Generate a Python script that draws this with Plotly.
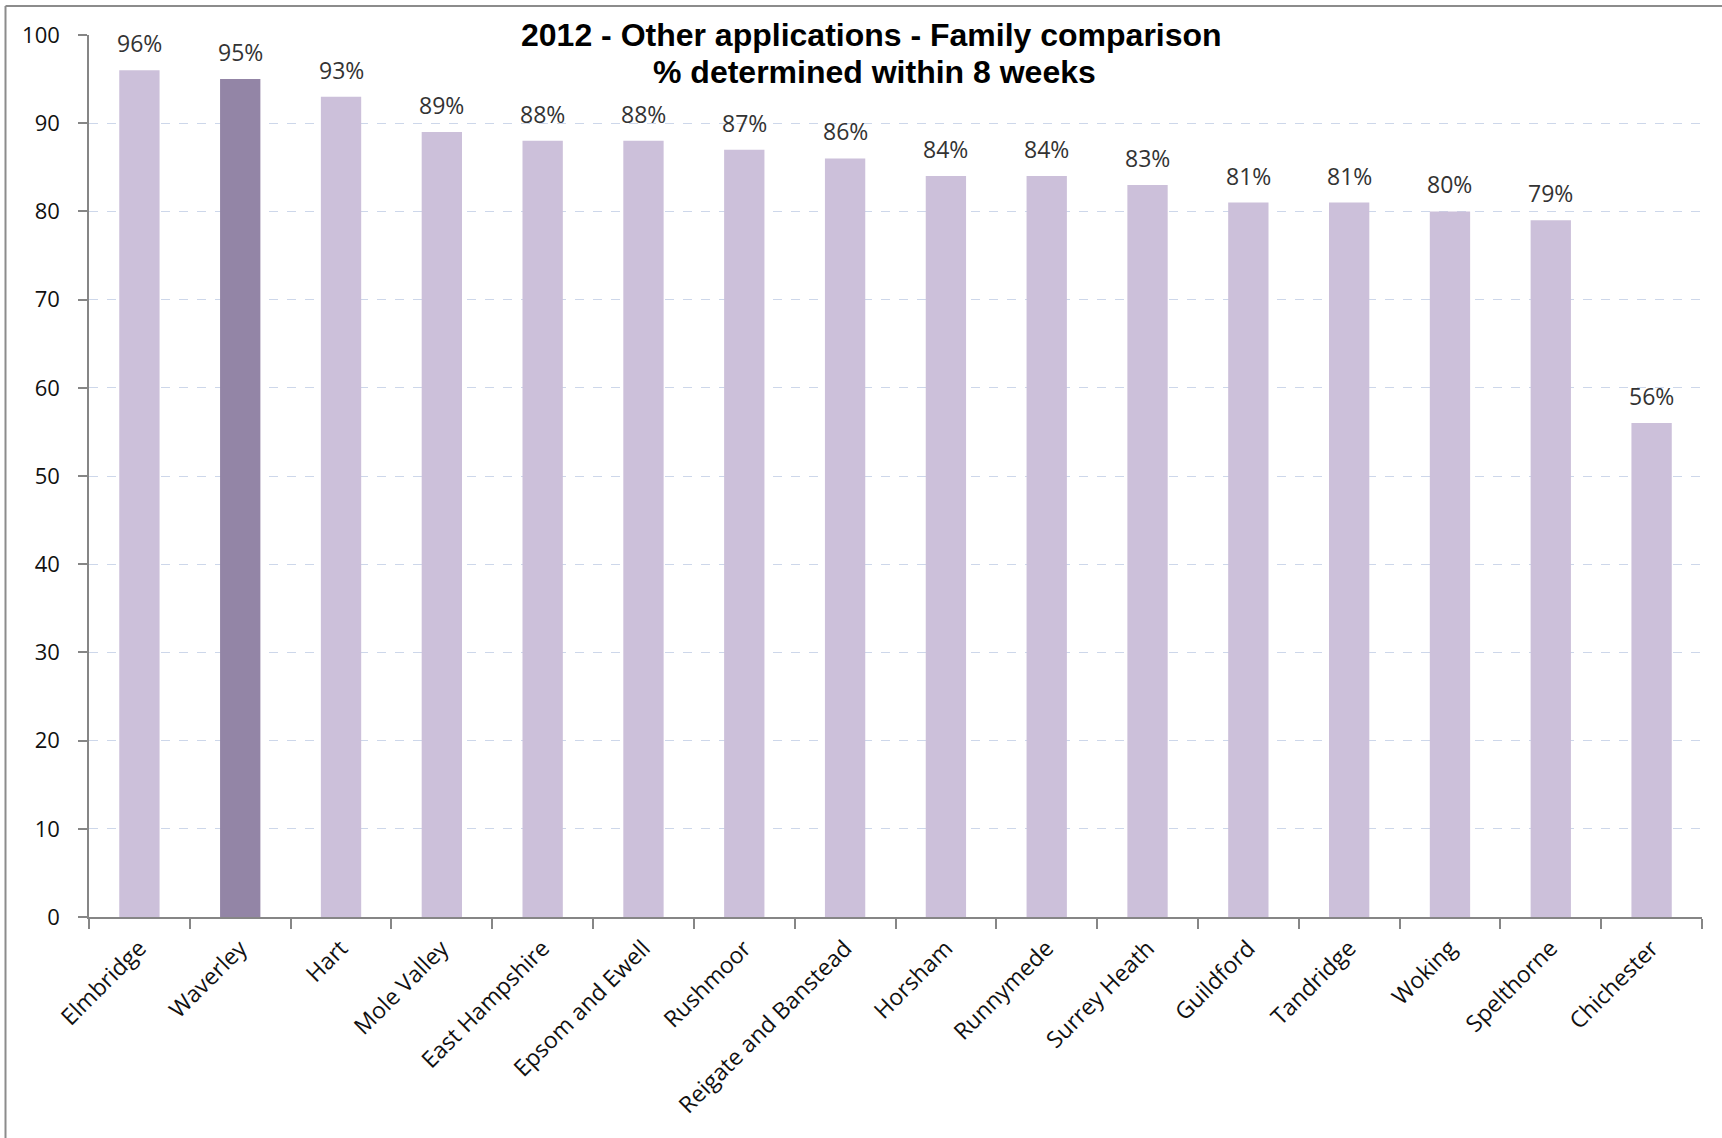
import plotly.graph_objects as go

# Councils in the comparison family, with % of "other" applications determined within 8 weeks (2012)
councils = [
    "Elmbridge", "Waverley", "Hart", "Mole Valley", "East Hampshire",
    "Epsom and Ewell", "Rushmoor", "Reigate and Banstead", "Horsham",
    "Runnymede", "Surrey Heath", "Guildford", "Tandridge", "Woking",
    "Spelthorne", "Chichester",
]
pct_within_8_weeks = [96, 95, 93, 89, 88, 88, 87, 86, 84, 84, 83, 81, 81, 80, 79, 56]
highlight_council = "Waverley"

y_ticks = [0, 10, 20, 30, 40, 50, 60, 70, 80, 90, 100]

LIGHT = "#ccc0da"
DARK = "#9385a6"
bar_colors = [DARK if c == highlight_council else LIGHT for c in councils]

W, H = 1722, 1138
M_L, M_R, M_T, M_B = 89, 20, 35, 221
plot_w = W - M_L - M_R
plot_h = H - M_T - M_B


def px_to_paper_x(px):
    return (px - M_L) / plot_w


def px_to_paper_y(py):
    return (H - M_B - py) / plot_h


fig = go.Figure()
fig.add_trace(go.Bar(
    x=councils,
    y=pct_within_8_weeks,
    marker=dict(color=bar_colors, line=dict(width=0)),
    hoverinfo="x+y",
))

# value labels above each bar
annotations = []
for c, v in zip(councils, pct_within_8_weeks):
    annotations.append(dict(
        x=c, y=v, xref="x", yref="y",
        text=f"{v}%", showarrow=False,
        yanchor="bottom", yshift=9,
        font=dict(family="Open Sans", size=23, color="#333333"),
    ))

# two-line chart title
title_font = dict(family="Liberation Sans", size=32, color="#000000")
annotations.append(dict(
    x=px_to_paper_x(871), y=px_to_paper_y(35), xref="paper", yref="paper",
    text="<b>2012 - Other applications - Family comparison</b>",
    showarrow=False, xanchor="center", yanchor="middle", font=title_font,
))
annotations.append(dict(
    x=px_to_paper_x(874), y=px_to_paper_y(72), xref="paper", yref="paper",
    text="<b>% determined within 8 weeks</b>",
    showarrow=False, xanchor="center", yanchor="middle", font=title_font,
))

# outer chart frame (left and top edges)
frame = dict(color="#8c8c8c", width=2)
shapes = [
    dict(type="line", xref="paper", yref="paper",
         x0=px_to_paper_x(5.5), x1=px_to_paper_x(5.5),
         y0=px_to_paper_y(H + 5), y1=px_to_paper_y(6), line=frame),
    dict(type="line", xref="paper", yref="paper",
         x0=px_to_paper_x(5.5), x1=px_to_paper_x(W + 5),
         y0=px_to_paper_y(6), y1=px_to_paper_y(6), line=frame),
]

fig.update_layout(
    width=W, height=H,
    margin=dict(l=M_L, r=M_R, t=M_T, b=M_B),
    paper_bgcolor="white", plot_bgcolor="white",
    bargap=0.6,
    showlegend=False,
    annotations=annotations,
    shapes=shapes,
    font=dict(family="Open Sans", color="#222222"),
)

fig.update_xaxes(
    type="category",
    showline=True, linecolor="#868686", linewidth=1.5,
    ticks="outside", tickson="boundaries", ticklen=10, tickcolor="#868686", tickwidth=1.5,
    tickangle=-45,
    ticklabelstandoff=7,
    tickfont=dict(family="Open Sans", size=23, color="#111111"),
    showgrid=False,
)

fig.update_yaxes(
    range=[0, 100],
    tickvals=y_ticks,
    showline=True, linecolor="#868686", linewidth=1.5,
    ticks="outside", ticklen=9, tickcolor="#868686", tickwidth=1.5,
    ticklabelstandoff=14,
    tickfont=dict(family="Open Sans", size=22, color="#111111"),
    showgrid=True, gridcolor="#cdd7ea", gridwidth=1.2, griddash="dash",
    zeroline=False,
)

fig.write_html("out.html")
